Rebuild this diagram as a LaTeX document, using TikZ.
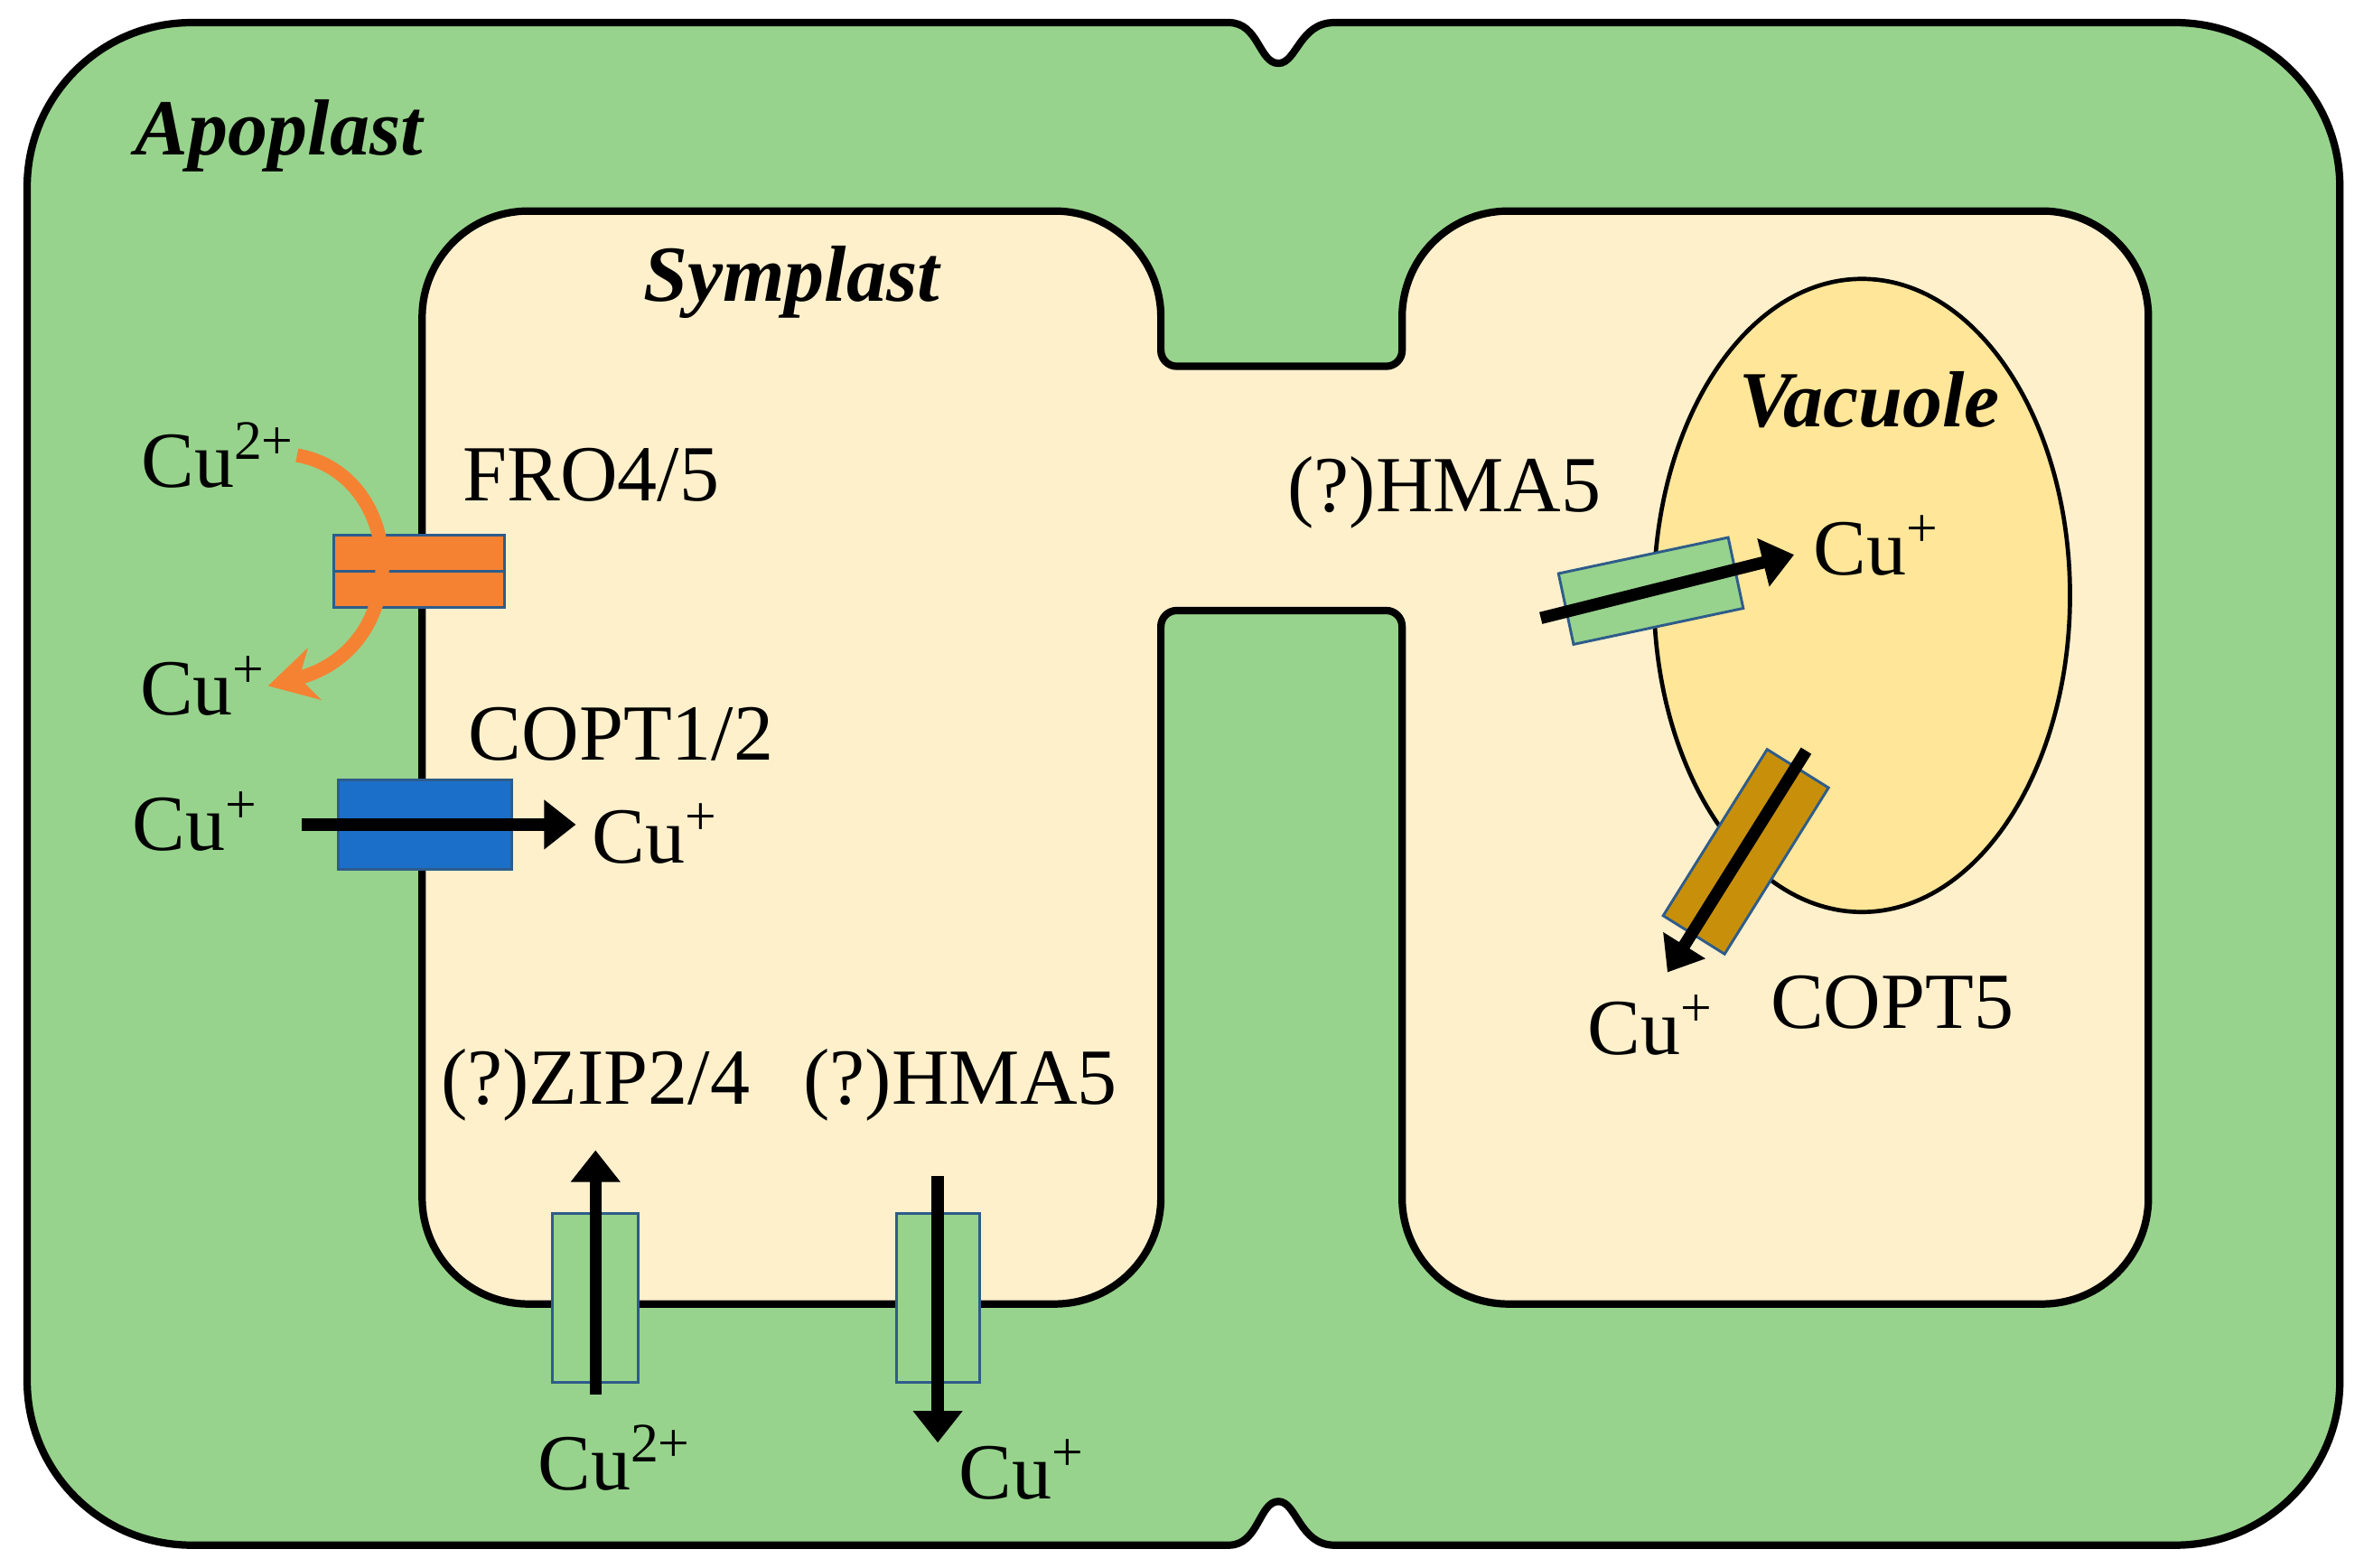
\documentclass[tikz,border=0pt]{standalone}
\usepackage{fontspec}
\setmainfont{Liberation Serif}
\usetikzlibrary{arrows.meta,positioning}
\definecolor{apogreen}{HTML}{97D38C}
\definecolor{cream}{HTML}{FFF0CC}
\definecolor{vacyel}{HTML}{FFE699}
\definecolor{froorange}{HTML}{F58233}
\definecolor{coptblue}{HTML}{1B6FC8}
\definecolor{coptbrown}{HTML}{C8900A}
\definecolor{edgeblue}{HTML}{2E5C8A}
\tikzset{
  lbl/.style={inner sep=0pt,font=\fontsize{15}{18}\selectfont},
  title/.style={inner sep=0pt,font=\fontsize{15}{18}\selectfont\bfseries\itshape},
  chan/.style={draw=edgeblue,line width=0.5pt,fill=apogreen,minimum width=1.6cm,minimum height=0.5cm,inner sep=0pt},
  flux/.style={line width=2.3pt,-{Triangle[length=6pt,width=9pt]}}
}
\begin{document}
\begin{tikzpicture}[x=0.01cm,y=-0.01cm]
  \useasboundingbox (0,0) rectangle (1568,1040);
  % apoplast
  \draw[line width=1.4pt,fill=apogreen]
    (815,15) .. controls (835,15) and (835,42) .. (848,42)
    .. controls (860,42) and (862,15) .. (885,15)
    [rounded corners=31pt] -- (1552,15) -- (1552,1025) [sharp corners] -- (885,1025)
    .. controls (862,1025) and (860,996) .. (848,996)
    .. controls (835,996) and (835,1025) .. (815,1025)
    [rounded corners=31pt] -- (18,1025) -- (18,15) [sharp corners] -- cycle;
  % symplast
  \draw[line width=1.4pt,fill=cream,rounded corners=20pt]
    (525,140) -- (770,140) [rounded corners=3pt] -- (770,243) -- (930,243) [rounded corners=20pt]
    -- (930,140) -- (1425,140) -- (1425,865) -- (930,865) [rounded corners=3pt]
    -- (930,405) -- (770,405) [rounded corners=20pt] -- (770,865) -- (280,865) -- (280,140) [sharp corners] -- cycle;
  % vacuole
  \draw[line width=0.8pt,fill=vacyel] (1235,395) ellipse [x radius=138,y radius=210];
  \node[title] (apo) at (185,90) {Apoplast};
  \node[title] (sym) at (525,187) {Symplast};
  \node[title] (vac) at (1240,265) {Vacuole};
  % FRO4/5
  \node[draw=edgeblue,line width=0.5pt,fill=froorange,minimum width=1.13cm,minimum height=0.48cm,inner sep=0pt] (fro) at (278,379) {};
  \draw[edgeblue,line width=0.5pt] (fro.west) -- (fro.east);
  \node[lbl] (cu2a) at (145,302) {Cu\textsuperscript{2+}};
  \node[lbl] (cu1a) at (135,455) {Cu\textsuperscript{+}};
  \node[lbl] (frolbl) at (392,315) {FRO4/5};
  \draw[froorange,line width=2.6pt,-{Stealth[length=9pt,width=10pt]}]
    (cu2a.east) .. controls (270,315) and (275,430) .. (cu1a.east);
  % COPT1/2
  \node[chan,fill=coptblue,minimum width=1.15cm,minimum height=0.59cm] (copt) at (282,547) {};
  \node[lbl] (cu1b) at (130,545) {Cu\textsuperscript{+}};
  \node[lbl] (cu1c) at (435,553) {Cu\textsuperscript{+}};
  \node[lbl] (coptlbl) at (412,487) {COPT1/2};
  \coordinate (c0) at (200,547);
  \coordinate (c1) at (382,547);
  \draw[flux] (c0) -- (c1);
  % ZIP2/4
  \node[chan,minimum width=0.57cm,minimum height=1.12cm] (zip) at (395,861) {};
  \node[lbl] (cu2b) at (408,967) {Cu\textsuperscript{2+}};
  \node[lbl] (ziplbl) at (395,720) {(?)ZIP2/4};
  \coordinate (z0) at (395,925);
  \coordinate (z1) at (395,763);
  \draw[flux] (z0) -- (z1);
  % HMA5 plasma membrane
  \node[chan,minimum width=0.55cm,minimum height=1.12cm] (hma) at (622,861) {};
  \node[lbl] (cu1d) at (678,975) {Cu\textsuperscript{+}};
  \node[lbl] (hmalbl) at (637,720) {(?)HMA5};
  \coordinate (h0) at (622,780);
  \coordinate (h1) at (622,957);
  \draw[flux] (h0) -- (h1);
  % HMA5 tonoplast
  \node[chan,rotate=12,minimum width=1.15cm,minimum height=0.48cm] (hmav) at (1095,392) {};
  \node[lbl] (hmavlbl) at (958,327) {(?)HMA5};
  \node[lbl] (cu1e) at (1245,362) {Cu\textsuperscript{+}};
  \coordinate (v0) at (1022,410);
  \coordinate (v1) at (1190,368);
  \draw[flux] (v0) -- (v1);
  % COPT5
  \node[chan,fill=coptbrown,rotate=58,minimum width=1.3cm,minimum height=0.48cm] (copt5) at (1158,565) {};
  \node[lbl] (cu1f) at (1095,680) {Cu\textsuperscript{+}};
  \node[lbl] (copt5lbl) at (1255,665) {COPT5};
  \coordinate (t0) at (1198,498);
  \coordinate (t1) at (1106,645);
  \draw[flux] (t0) -- (t1);
\end{tikzpicture}
\end{document}
